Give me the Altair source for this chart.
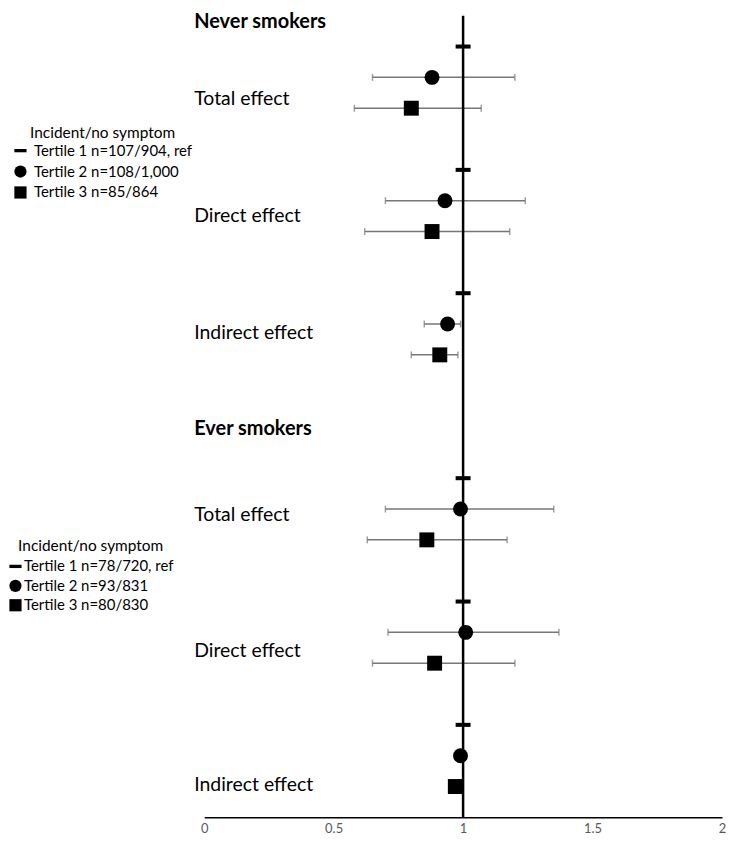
import altair as alt
import pandas as pd

# ---------------- data ----------------
groups = ["Never smokers", "Ever smokers"]
effects = ["Total effect", "Direct effect", "Indirect effect"]
legend_never = ["Tertile 1 n=107/904, ref", "Tertile 2 n=108/1,000", "Tertile 3 n=85/864"]
legend_ever = ["Tertile 1 n=78/720, ref", "Tertile 2 n=93/831", "Tertile 3 n=80/830"]
legend_title = "Incident/no symptom"

# rows = effects (total, direct, indirect), columns = tertile 1 (ref), 2, 3
est_never = [[1.0, 0.88, 0.80], [1.0, 0.93, 0.88], [1.0, 0.94, 0.91]]
lo_never = [[None, 0.65, 0.58], [None, 0.70, 0.62], [None, 0.85, 0.80]]
hi_never = [[None, 1.20, 1.07], [None, 1.24, 1.18], [None, 0.99, 0.98]]

est_ever = [[1.0, 0.99, 0.86], [1.0, 1.01, 0.89], [1.0, 0.99, 0.97]]
lo_ever = [[None, 0.70, 0.63], [None, 0.71, 0.65], [None, 0.97, 0.95]]
hi_ever = [[None, 1.35, 1.17], [None, 1.37, 1.20], [None, 1.01, 0.99]]

ref_value = 1.0
x_ticks = [0, 0.5, 1, 1.5, 2]

# ---------------- layout (row slots, top to bottom) ----------------
group_base = [0, 14]
effect_offset = [1, 5, 9]
header_rows = [0.19, 13.4]
effect_label_rows = [[2.7, 6.5, 10.3], [16.2, 20.6, 24.95]]
n_rows = 26

records = []
for gi, (g, est, lo, hi, leg) in enumerate([
    ("Never smokers", est_never, lo_never, hi_never, legend_never),
    ("Ever smokers", est_ever, lo_ever, hi_ever, legend_ever),
]):
    for ei, e in enumerate(effects):
        for ti in range(3):
            records.append({
                "group": g, "effect": e, "label": leg[ti],
                "est": est[ei][ti], "lo": lo[ei][ti], "hi": hi[ei][ti],
                "row": group_base[gi] + effect_offset[ei] + ti,
            })
df = pd.DataFrame(records)
df_ci = df.dropna(subset=["lo", "hi"])
df_never = df[df.group == "Never smokers"]
df_ever = df[df.group == "Ever smokers"]

df_eff_labels = pd.DataFrame([
    {"text": e, "row": effect_label_rows[gi][ei]}
    for gi in range(2) for ei, e in enumerate(effects)
])
df_headers = pd.DataFrame({"text": groups, "row": header_rows})

FONT = "Lato"
GREY = "#777777"
DASH = "M-1,-0.27H1V0.27H-1Z"

x_scale = alt.Scale(domain=[0, 2], nice=False, zero=False)
y_scale = alt.Scale(domain=[0, n_rows], reverse=True, nice=False, zero=False)
x_axis = alt.Axis(values=x_ticks, format="~g", ticks=False, grid=False,
                  domainColor="black", domainWidth=1.5, labelColor="#595959",
                  labelFontSize=13, labelFont=FONT, labelPadding=5,
                  labelFlush=False, title=None)

err = alt.Chart(df_ci).mark_errorbar(ticks=True, size=7, thickness=1.5, color=GREY).encode(
    x=alt.X("lo:Q", scale=x_scale, axis=x_axis),
    x2="hi:Q",
    y=alt.Y("row:Q", scale=y_scale, axis=None),
)

ref = alt.Chart(pd.DataFrame({"ref": [ref_value]})).mark_rule(color="black", strokeWidth=2.5).encode(
    x=alt.X("ref:Q", scale=x_scale, axis=x_axis),
)


def legend(x, y, offset, row_pad, title_pad):
    return alt.Legend(
        title=legend_title, orient="none", legendX=x, legendY=y,
        titleAnchor="middle", titleFontWeight="normal", titleFontSize=15.5,
        titleFont=FONT, titleColor="black", titlePadding=title_pad,
        labelFont=FONT, labelFontSize=15, labelColor="black", labelLimit=400,
        labelOffset=offset, symbolSize=150, symbolFillColor="black",
        symbolStrokeColor="black", symbolStrokeWidth=0, rowPadding=row_pad, padding=0,
    )


pts_never = alt.Chart(df_never).mark_point(filled=True, size=225, color="black", opacity=1).encode(
    x=alt.X("est:Q", scale=x_scale, axis=x_axis),
    y=alt.Y("row:Q", scale=y_scale, axis=None),
    shape=alt.Shape("label:N", scale=alt.Scale(domain=legend_never, range=[DASH, "circle", "square"]),
                    legend=legend(-192, 111, 6, 5, 1.5)),
)

pts_ever = alt.Chart(df_ever).mark_point(filled=True, size=225, color="black", opacity=1).encode(
    x=alt.X("est:Q", scale=x_scale, axis=x_axis),
    y=alt.Y("row:Q", scale=y_scale, axis=None),
    shape=alt.Shape("label:N", scale=alt.Scale(domain=legend_ever, range=[DASH, "circle", "square"]),
                    legend=legend(-197, 526, 1, 3.5, 4)),
)

eff_labels = alt.Chart(df_eff_labels).mark_text(
    align="left", baseline="middle", dx=-10, fontSize=19.5, font=FONT, color="black"
).encode(
    x=alt.datum(0, scale=x_scale),
    y=alt.Y("row:Q", scale=y_scale, axis=None),
    text="text:N",
)

headers = alt.Chart(df_headers).mark_text(
    align="left", baseline="middle", dx=-10, fontSize=20, font=FONT, fontWeight="bold", color="black"
).encode(
    x=alt.datum(0, scale=x_scale),
    y=alt.Y("row:Q", scale=y_scale, axis=None),
    text="text:N",
)

chart = alt.layer(err, ref, pts_never, pts_ever, eff_labels, headers).resolve_scale(
    shape="independent"
).properties(
    width=520, height=805,
    autosize=alt.AutoSizeParams(type="none"),
    padding={"left": 197, "top": 6, "right": 4, "bottom": 21},
).configure_view(stroke=None)

chart.save("out.html", embed_options={"renderer": "svg", "actions": False})
